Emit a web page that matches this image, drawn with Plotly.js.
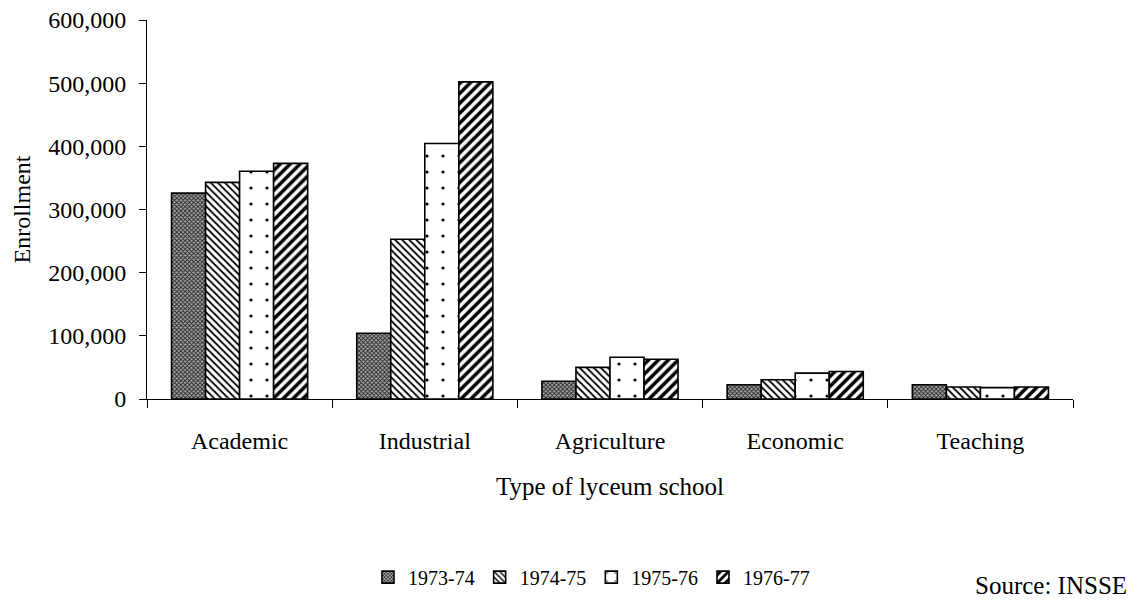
<!DOCTYPE html>
<html>
<head>
<meta charset="utf-8">
<script src="https://cdn.plot.ly/plotly-3.0.1.min.js"></script>
<style>body{margin:0;background:#fff}#chart{width:1142px;height:603px}</style>
</head>
<body>
<div id="chart"></div>
<script>
const categories = ["Academic", "Industrial", "Agriculture", "Economic", "Teaching"];
const seriesNames = ["1973-74", "1974-75", "1975-76", "1976-77"];
const v1973 = [326000, 104000, 28000, 22500, 22500];
const v1974 = [343000, 253000, 50000, 30500, 19000];
const v1975 = [360500, 404500, 66000, 41000, 18000];
const v1976 = [373000, 502000, 63000, 43500, 19000];
const yTicks = [0, 100000, 200000, 300000, 400000, 500000, 600000];
const yTickLabels = ["0", "100,000", "200,000", "300,000", "400,000", "500,000", "600,000"];

const font = "Liberation Serif, Times New Roman, serif";
const patterns = [
  {shape: "x", fgcolor: "#222", bgcolor: "#aaa", size: 3, solidity: 0.5},
  {shape: "\\", fgcolor: "#000", bgcolor: "#fff", size: 5, solidity: 0.35},
  {shape: ".", fgcolor: "#000", bgcolor: "#fff", size: 16, solidity: 0.03},
  {shape: "/", fgcolor: "#000", bgcolor: "#fff", size: 7, solidity: 0.5}
];
const values = [v1973, v1974, v1975, v1976];
const traces = values.map((v, i) => ({
  type: "bar",
  name: seriesNames[i],
  x: categories,
  y: v,
  marker: {color: patterns[i].bgcolor, line: {color: "#000", width: 1.6}, pattern: patterns[i]}
}));

const layout = {
  width: 1142, height: 603,
  margin: {l: 147, r: 69, t: 20, b: 204, autoexpand: false},
  paper_bgcolor: "#fff", plot_bgcolor: "#fff",
  font: {family: font, size: 24, color: "#000"},
  barmode: "group", bargap: 0.265, bargroupgap: 0,
  showlegend: true,
  legend: {orientation: "h", x: 0.48, xanchor: "center", y: -0.47, yanchor: "middle",
           font: {family: font, size: 20}, itemwidth: 30, tracegroupgap: 0},
  xaxis: {
    type: "category", automargin: false, showline: true, linecolor: "#000", linewidth: 1,
    ticks: "outside", tickson: "boundaries", ticklen: 8, tickcolor: "#000",
    showgrid: false, zeroline: false, ticklabelstandoff: 20,
    tickfont: {family: font, size: 24},
    title: {text: "Type of lyceum school", font: {family: font, size: 25}, standoff: 24}
  },
  yaxis: {
    range: [0, 600000], automargin: false, showline: true, linecolor: "#000", linewidth: 1,
    ticks: "outside", ticklen: 7, tickcolor: "#000",
    tickvals: yTicks, ticktext: yTickLabels, ticklabelstandoff: 8,
    showgrid: false, zeroline: false,
    tickfont: {family: font, size: 24},
    title: {text: "Enrollment", font: {family: font, size: 24}, standoff: 10}
  },
  annotations: [{
    text: "Source: INSSE", xref: "paper", yref: "paper",
    x: 1.0605, y: -0.491, xanchor: "right", yanchor: "middle",
    showarrow: false, font: {family: font, size: 25}
  }]
};
Plotly.newPlot("chart", traces, layout, {displayModeBar: false, staticPlot: true});
</script>
</body>
</html>
